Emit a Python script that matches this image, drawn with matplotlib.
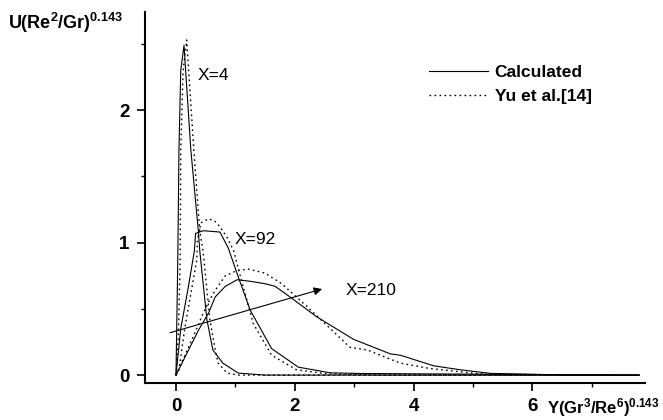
import matplotlib
matplotlib.use("Agg")
import matplotlib.pyplot as plt
from matplotlib.ticker import MultipleLocator

plt.rcParams['font.family'] = ['Liberation Sans', 'DejaVu Sans']
plt.rcParams['mathtext.fontset'] = 'custom'
plt.rcParams['mathtext.rm'] = 'Liberation Sans'
plt.rcParams['mathtext.bf'] = 'Liberation Sans:bold'

# X=4
x4_calc = [0, 0.03, 0.05, 0.08, 0.135, 0.25, 0.376, 0.40, 0.52, 0.62, 0.79, 1.05, 1.5, 7.8]
y4_calc = [0, 0.87, 1.70, 2.30, 2.49, 1.70, 1.09, 0.94, 0.42, 0.19, 0.09, 0.015, 0.0, 0.0]
x4_yu = [0, 0.04, 0.07, 0.08, 0.12, 0.18, 0.30, 0.40, 0.455, 0.57, 0.66, 0.71, 0.86, 1.05, 7.8]
y4_yu = [0, 0.30, 0.87, 1.70, 2.30, 2.53, 1.70, 1.09, 0.94, 0.42, 0.19, 0.09, 0.015, 0.0, 0.0]

# X=92
x92_calc = [0, 0.08, 0.21, 0.31, 0.33, 0.46, 0.74, 0.88, 1.05, 1.25, 1.61, 2.06, 2.6, 3.1, 7.8]
y92_calc = [0, 0.35, 0.67, 0.94, 1.07, 1.09, 1.08, 0.96, 0.74, 0.49, 0.20, 0.06, 0.017, 0.012, 0.0]
x92_yu = [0, 0.05, 0.15, 0.26, 0.35, 0.36, 0.42, 0.55, 0.66, 0.74, 0.86, 0.97, 1.1, 1.30, 1.61, 2.03, 2.54, 3.5, 7.8]
y92_yu = [0, 0.04, 0.36, 0.64, 0.87, 1.02, 1.15, 1.18, 1.16, 1.12, 1.04, 0.94, 0.72, 0.39, 0.15, 0.04, 0.01, 0.0, 0.0]

# X=210
x210_calc = [0, 0.38, 0.55, 0.66, 0.83, 1.03, 1.22, 1.5, 1.67, 1.92, 2.37, 2.99, 3.61, 3.78, 4.34, 4.79, 5.3, 6.64, 7.8]
y210_calc = [0, 0.34, 0.47, 0.59, 0.67, 0.72, 0.71, 0.69, 0.67, 0.59, 0.44, 0.27, 0.16, 0.15, 0.07, 0.04, 0.013, 0.0, 0.0]
x210_yu = [0, 0.3, 0.45, 0.57, 0.66, 0.83, 1.03, 1.22, 1.5, 1.78, 2.2, 2.93, 3.22, 3.78, 4.27, 4.79, 5.35, 7.8]
y210_yu = [0, 0.30, 0.46, 0.57, 0.64, 0.75, 0.79, 0.80, 0.77, 0.69, 0.52, 0.21, 0.19, 0.09, 0.05, 0.025, 0.0, 0.0]

arrow_start = (-0.1, 0.32)
arrow_end = (2.46, 0.65)

fig = plt.figure(figsize=(6.63, 4.2), dpi=100)
ax = fig.add_axes([0.2187, 0.088, 0.7543, 0.883])

lw = 0.8
dot = (0, (1.2, 2.4))
ax.plot(x4_calc, y4_calc, color='black', lw=lw, label='Calculated')
ax.plot(x4_yu, y4_yu, color='black', lw=1.0, ls=dot, label='Yu et al.[14]')
ax.plot(x92_calc, y92_calc, color='black', lw=lw)
ax.plot(x92_yu, y92_yu, color='black', lw=1.0, ls=dot)
ax.plot(x210_calc, y210_calc, color='black', lw=lw)
ax.plot(x210_yu, y210_yu, color='black', lw=1.0, ls=dot)

ax.annotate('', xy=arrow_end, xytext=arrow_start,
            arrowprops=dict(arrowstyle='-|>', color='black', lw=0.8,
                            mutation_scale=12, shrinkA=0, shrinkB=0))

ax.text(0.36, 2.26, 'X=4', fontsize=12.5, va='center', ha='left')
ax.text(0.98, 1.02, 'X=92', fontsize=12.5, va='center', ha='left')
ax.text(2.85, 0.64, 'X=210', fontsize=12.5, va='center', ha='left')

ax.set_xlim(-0.522, 7.90)
ax.set_ylim(-0.06, 2.74)
for s in ['top', 'right']:
    ax.spines[s].set_visible(False)
for s in ['left', 'bottom']:
    ax.spines[s].set_linewidth(1.5)

ax.xaxis.set_minor_locator(MultipleLocator(1))
ax.yaxis.set_minor_locator(MultipleLocator(0.5))
ax.set_xticks([0, 2, 4, 6])
ax.set_yticks([0, 1, 2])
ax.tick_params(which='major', direction='out', length=6, width=1.2, labelsize=13.5, pad=5)
ax.tick_params(which='minor', direction='out', length=3, width=1.0)
for lab in ax.get_xticklabels() + ax.get_yticklabels():
    lab.set_fontweight('bold')

fig.text(0.012, 0.945, r'$\mathbf{U(Re^2/Gr)^{0.143}}$', fontsize=13, ha='left', va='center')
fig.text(0.995, 0.030, r'$\mathbf{Y(Gr^3/Re^6)^{0.143}}$', fontsize=12, ha='right', va='center')

leg = ax.legend(loc='upper left', bbox_to_anchor=(0.536, 0.90), frameon=False,
                prop={'weight': 'bold', 'size': 12.5}, handlelength=3.4,
                handletextpad=0.4, labelspacing=0.5)

fig.savefig('out.png', dpi=100)
